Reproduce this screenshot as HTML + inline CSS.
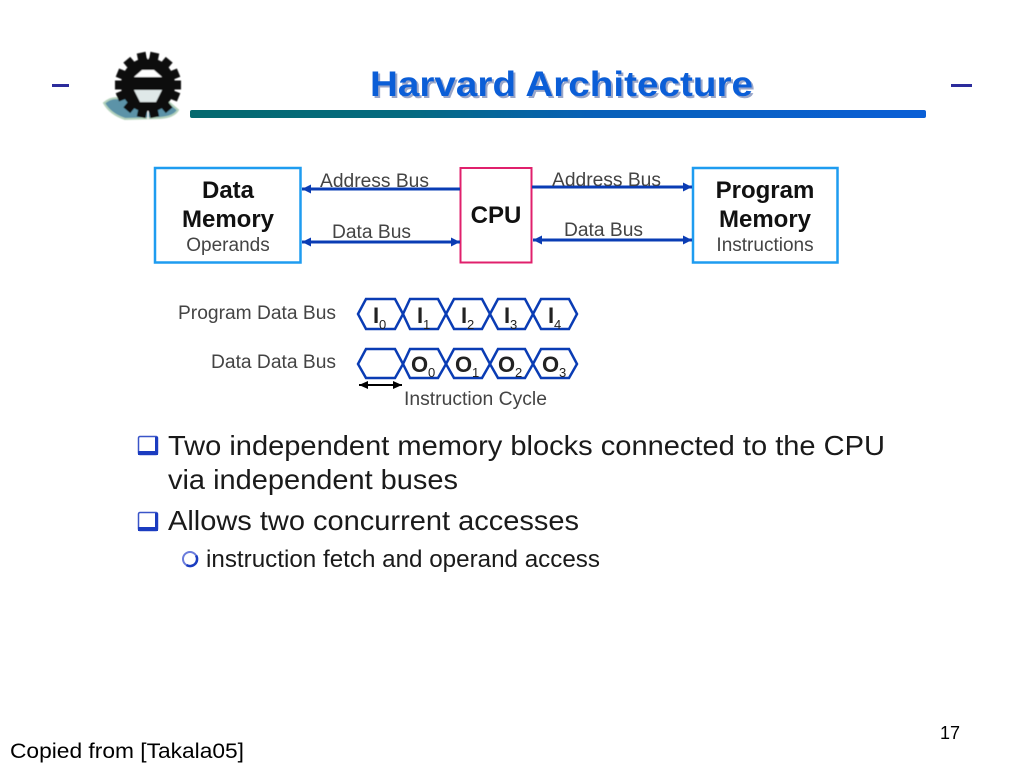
<!DOCTYPE html>
<html><head><meta charset="utf-8"><style>
html,body{margin:0;padding:0;background:#fff}
svg{display:block}
text{font-family:"Liberation Sans",Arial,sans-serif}
</style></head><body>
<svg width="1024" height="768" viewBox="0 0 1024 768" xmlns="http://www.w3.org/2000/svg">
<defs>
<linearGradient id="bar" x1="0" x2="1" y1="0" y2="0"><stop offset="0" stop-color="#05696e"/><stop offset=".3" stop-color="#056a80"/><stop offset=".55" stop-color="#0860b8"/><stop offset="1" stop-color="#0a5fd6"/></linearGradient>
<filter id="b"><feGaussianBlur stdDeviation=".5"/></filter>
<marker id="ah" markerUnits="userSpaceOnUse" markerWidth="10" markerHeight="12" refX="9" refY="6" orient="auto-start-reverse"><path d="M0 1.500 L9 6 L0 10.500Z" fill="#0a3cb4"/></marker>
<marker id="bh" markerUnits="userSpaceOnUse" markerWidth="10" markerHeight="10" refX="9" refY="5" orient="auto-start-reverse"><path d="M0 1 L9 5 L0 9Z" fill="#000"/></marker>
</defs>
<rect width="1024" height="768" fill="#fff"/>
<rect x="52" y="84" width="17" height="3" fill="#2c2c9c"/>
<rect x="951" y="84" width="21" height="3" fill="#2c2c9c"/>
<rect x="190" y="110" width="736" height="8" rx="2" fill="url(#bar)"/>
<!-- logo -->
<g filter="url(#b)">
<path d="M104 103 Q112 96 122 99 L130 95 L166 100 L178 110 Q174 117 160 118 L125 119 Q110 114 104 103Z" fill="#5b93a8" stroke="#b4d2bc" stroke-width="2"/>
<g transform="translate(148 85)">
<g stroke="#0c0c0c" stroke-width="9">
<line x1="0" y1="-33" x2="0" y2="33" transform="rotate(12)"/>
<line x1="0" y1="-33" x2="0" y2="33" transform="rotate(-12)"/>
<line x1="0" y1="-33" x2="0" y2="33" transform="rotate(40)"/>
<line x1="0" y1="-33" x2="0" y2="33" transform="rotate(-40)"/>
<line x1="0" y1="-33" x2="0" y2="33" transform="rotate(68)"/>
<line x1="0" y1="-33" x2="0" y2="33" transform="rotate(-68)"/>
<line x1="0" y1="-33" x2="0" y2="33" transform="rotate(90)"/>
</g>
<circle r="27" fill="#0c0c0c"/>
<path d="M-14 -8 L-6 -15 L6 -15 L14 -8Z" fill="#fff"/>
<path d="M-14 5 L14 5 L8 17 L-8 17Z" fill="#dfe8e8"/>
<rect x="-.6" y="-34" width="1.200" height="8" fill="#fff"/>
<rect x="-.6" y="26" width="1.200" height="8" fill="#fff"/>
</g>
</g>
<text x="372" y="98" font-size="35" font-weight="bold" fill="#9aa6c8" textLength="383" lengthAdjust="spacingAndGlyphs">Harvard Architecture</text>
<text x="370" y="96" font-size="35" font-weight="bold" fill="#0b5ed7" textLength="383" lengthAdjust="spacingAndGlyphs">Harvard Architecture</text>
<!-- boxes -->
<rect x="155" y="168" width="145.500" height="94.500" fill="#fff" stroke="#1e9cf0" stroke-width="2.500"/>
<rect x="460.500" y="168" width="71" height="94.500" fill="#fff" stroke="#e0206c" stroke-width="2"/>
<rect x="693" y="168" width="144.500" height="94.500" fill="#fff" stroke="#1e9cf0" stroke-width="2.500"/>
<g text-anchor="middle" font-weight="bold" font-size="24" fill="#111">
<text x="228" y="198">Data</text>
<text x="228" y="227">Memory</text>
<text x="496" y="223">CPU</text>
<text x="765" y="198">Program</text>
<text x="765" y="227">Memory</text>
</g>
<g text-anchor="middle" font-size="19" fill="#444">
<text x="228" y="251">Operands</text>
<text x="765" y="251">Instructions</text>
</g>
<!-- arrows -->
<g stroke="#0a3cb4" stroke-width="3" fill="none">
<line x1="460" y1="189" x2="302" y2="189" marker-end="url(#ah)"/>
<line x1="302" y1="242" x2="460" y2="242" marker-start="url(#ah)" marker-end="url(#ah)"/>
<line x1="532" y1="187" x2="692" y2="187" marker-end="url(#ah)"/>
<line x1="533" y1="240" x2="692" y2="240" marker-start="url(#ah)" marker-end="url(#ah)"/>
</g>
<g font-size="19" fill="#444">
<text x="320" y="187" textLength="109" lengthAdjust="spacingAndGlyphs">Address Bus</text>
<text x="332" y="238" textLength="79" lengthAdjust="spacingAndGlyphs">Data Bus</text>
<text x="552" y="186" textLength="109" lengthAdjust="spacingAndGlyphs">Address Bus</text>
<text x="564" y="236" textLength="79" lengthAdjust="spacingAndGlyphs">Data Bus</text>
<text x="178" y="319" textLength="158" lengthAdjust="spacingAndGlyphs">Program Data Bus</text>
<text x="211" y="368" textLength="125" lengthAdjust="spacingAndGlyphs">Data Data Bus</text>
<text x="404" y="405" textLength="143" lengthAdjust="spacingAndGlyphs">Instruction Cycle</text>
</g>
<!-- hexes -->
<g fill="none" stroke="#0a3cb4" stroke-width="2.500" stroke-linejoin="miter">
<path d="M358 314 L366 299 H395 L403 314 L395 329 H366Z"/>
<path d="M403 314 L410 299 H438 L446 314 L438 329 H410Z"/>
<path d="M446 314 L454 299 H482 L490 314 L482 329 H454Z"/>
<path d="M490 314 L498 299 H525 L533 314 L525 329 H498Z"/>
<path d="M533 314 L541 299 H569 L577 314 L569 329 H541Z"/>
<path d="M358 364 L366 349 H395 L403 364 L395 378 H366Z"/>
<path d="M403 364 L410 349 H438 L446 364 L438 378 H410Z"/>
<path d="M446 364 L454 349 H482 L490 364 L482 378 H454Z"/>
<path d="M490 364 L498 349 H525 L533 364 L525 378 H498Z"/>
<path d="M533 364 L541 349 H569 L577 364 L569 378 H541Z"/>
</g>
<g font-weight="bold" font-size="22" fill="#222">
<text x="373" y="323">I</text><text x="379" y="329" font-size="13" font-weight="normal">0</text>
<text x="417" y="323">I</text><text x="423" y="329" font-size="13" font-weight="normal">1</text>
<text x="461" y="323">I</text><text x="467" y="329" font-size="13" font-weight="normal">2</text>
<text x="504" y="323">I</text><text x="510" y="329" font-size="13" font-weight="normal">3</text>
<text x="548" y="323">I</text><text x="554" y="329" font-size="13" font-weight="normal">4</text>
<text x="411" y="372">O</text><text x="428" y="377" font-size="13" font-weight="normal">0</text>
<text x="455" y="372">O</text><text x="472" y="377" font-size="13" font-weight="normal">1</text>
<text x="498" y="372">O</text><text x="515" y="377" font-size="13" font-weight="normal">2</text>
<text x="542" y="372">O</text><text x="559" y="377" font-size="13" font-weight="normal">3</text>
</g>
<line x1="359" y1="385" x2="402" y2="385" stroke="#000" stroke-width="2" marker-start="url(#bh)" marker-end="url(#bh)"/>
<!-- bullets -->
<g fill="#fff" stroke="#3a55c8">
<rect x="138.500" y="436.500" width="19" height="18" rx="1.500" stroke-width="1.500"/>
<rect x="138.500" y="512.500" width="19" height="18" rx="1.500" stroke-width="1.500"/>
</g>
<rect x="138" y="451" width="20" height="4" fill="#1b3cc0"/>
<rect x="155" y="437" width="3" height="18" fill="#1b3cc0"/>
<rect x="138" y="527" width="20" height="4" fill="#1b3cc0"/>
<rect x="155" y="513" width="3" height="18" fill="#1b3cc0"/>
<circle cx="190" cy="559" r="7" fill="#fff" stroke="#6a7cdc" stroke-width="2"/>
<path d="M196.100 555.500 A7 7 0 0 1 186.500 565.100" fill="none" stroke="#1b3cc0" stroke-width="2.500"/>
<g fill="#1a1a1a">
<text x="168" y="455" font-size="28" textLength="717" lengthAdjust="spacingAndGlyphs">Two independent memory blocks connected to the CPU</text>
<text x="168" y="489" font-size="28" textLength="290" lengthAdjust="spacingAndGlyphs">via independent buses</text>
<text x="168" y="530" font-size="28" textLength="411" lengthAdjust="spacingAndGlyphs">Allows two concurrent accesses</text>
<text x="206" y="567" font-size="24" textLength="394" lengthAdjust="spacingAndGlyphs">instruction fetch and operand access</text>
</g>
<text x="940" y="739" font-size="18" fill="#000">17</text>
<text x="10" y="758" font-size="21.500" fill="#000" textLength="234" lengthAdjust="spacingAndGlyphs">Copied from [Takala05]</text>
</svg>
</body></html>
